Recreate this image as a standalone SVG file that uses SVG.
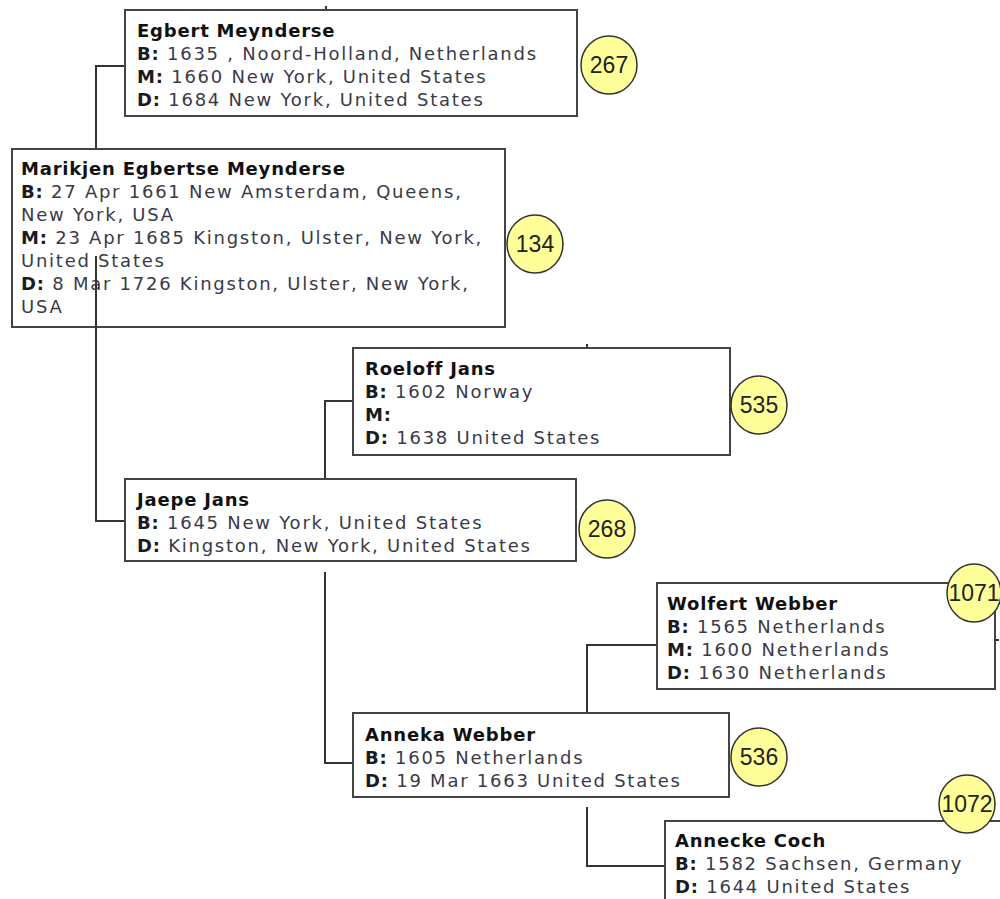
<svg xmlns="http://www.w3.org/2000/svg" width="1000" height="899" viewBox="0 0 1000 899">
<style>
.box{fill:#fff;stroke:#444;stroke-width:2}
.con{fill:none;stroke:#333;stroke-width:2}
.badge{fill:#ffff99;stroke:#333;stroke-width:1.5}
.num{font-family:"Liberation Sans",Arial,sans-serif;font-size:23px;fill:#222;text-anchor:middle}
.t{font-family:"DejaVu Sans",Verdana,sans-serif;font-size:18px;letter-spacing:1.75px;fill:#3a3a48}
.n{font-weight:bold;fill:#111;letter-spacing:0.8px}
.l{font-weight:bold;fill:#1a1a22;letter-spacing:0.8px}
</style>
<rect width="1000" height="899" fill="#fff"/>
<g id="connectors">
<path class="con" d="M125,66 H96 V149"/>
<path class="con" d="M96,256 V521 H125"/>
<path class="con" d="M353,401 H325 V479"/>
<path class="con" d="M325,572 V763 H353"/>
<path class="con" d="M657,645 H587 V713"/>
<path class="con" d="M587,807 V866 H665"/>
<path class="con" d="M326,6 V10"/>
<path class="con" d="M587,344 V348"/>
<path class="con" d="M995,640 H999"/>
</g>
<g id="node-267">
<rect class="box" x="125" y="10" width="452" height="106"/>
<text class="t" x="137" y="37"><tspan class="n">Egbert Meynderse</tspan></text>
<text class="t" x="137" y="60"><tspan class="l">B:</tspan> 1635 , Noord-Holland, Netherlands</text>
<text class="t" x="137" y="83"><tspan class="l">M:</tspan> 1660 New York, United States</text>
<text class="t" x="137" y="106"><tspan class="l">D:</tspan> 1684 New York, United States</text>
<ellipse class="badge" cx="609" cy="65" rx="28" ry="29"/>
<text class="num" x="609" y="73">267</text>
</g>
<g id="node-134">
<rect class="box" x="12" y="149" width="493" height="178"/>
<text class="t" x="21" y="175"><tspan class="n">Marikjen Egbertse Meynderse</tspan></text>
<text class="t" x="21" y="198"><tspan class="l">B:</tspan> 27 Apr 1661 New Amsterdam, Queens,</text>
<text class="t" x="21" y="221">New York, USA</text>
<text class="t" x="21" y="244"><tspan class="l">M:</tspan> 23 Apr 1685 Kingston, Ulster, New York,</text>
<text class="t" x="21" y="267">United States</text>
<text class="t" x="21" y="290"><tspan class="l">D:</tspan> 8 Mar 1726 Kingston, Ulster, New York,</text>
<text class="t" x="21" y="313">USA</text>
<ellipse class="badge" cx="535" cy="244" rx="28" ry="29"/>
<text class="num" x="535" y="252">134</text>
</g>
<path class="con" d="M96,256 V327"/>
<g id="node-535">
<rect class="box" x="353" y="348" width="377" height="107"/>
<text class="t" x="365" y="375"><tspan class="n">Roeloff Jans</tspan></text>
<text class="t" x="365" y="398"><tspan class="l">B:</tspan> 1602 Norway</text>
<text class="t" x="365" y="421"><tspan class="l">M:</tspan></text>
<text class="t" x="365" y="444"><tspan class="l">D:</tspan> 1638 United States</text>
<ellipse class="badge" cx="759" cy="405" rx="28" ry="29"/>
<text class="num" x="759" y="413">535</text>
</g>
<g id="node-268">
<rect class="box" x="125" y="479" width="451" height="82"/>
<text class="t" x="137" y="506"><tspan class="n">Jaepe Jans</tspan></text>
<text class="t" x="137" y="529"><tspan class="l">B:</tspan> 1645 New York, United States</text>
<text class="t" x="137" y="552"><tspan class="l">D:</tspan> Kingston, New York, United States</text>
<ellipse class="badge" cx="607" cy="529" rx="28" ry="29"/>
<text class="num" x="607" y="537">268</text>
</g>
<g id="node-1071">
<rect class="box" x="657" y="583" width="338" height="106"/>
<text class="t" x="667" y="610"><tspan class="n">Wolfert Webber</tspan></text>
<text class="t" x="667" y="633"><tspan class="l">B:</tspan> 1565 Netherlands</text>
<text class="t" x="667" y="656"><tspan class="l">M:</tspan> 1600 Netherlands</text>
<text class="t" x="667" y="679"><tspan class="l">D:</tspan> 1630 Netherlands</text>
<ellipse class="badge" cx="974" cy="593" rx="27" ry="29"/>
<text class="num" x="974" y="601">1071</text>
</g>
<g id="node-536">
<rect class="box" x="353" y="713" width="376" height="84"/>
<text class="t" x="365" y="741"><tspan class="n">Anneka Webber</tspan></text>
<text class="t" x="365" y="764"><tspan class="l">B:</tspan> 1605 Netherlands</text>
<text class="t" x="365" y="787"><tspan class="l">D:</tspan> 19 Mar 1663 United States</text>
<ellipse class="badge" cx="759" cy="757" rx="28" ry="29"/>
<text class="num" x="759" y="765">536</text>
</g>
<g id="node-1072">
<rect class="box" x="665" y="821" width="345" height="90"/>
<text class="t" x="675" y="847"><tspan class="n">Annecke Coch</tspan></text>
<text class="t" x="675" y="870"><tspan class="l">B:</tspan> 1582 Sachsen, Germany</text>
<text class="t" x="675" y="893"><tspan class="l">D:</tspan> 1644 United States</text>
<ellipse class="badge" cx="967" cy="804" rx="28" ry="29"/>
<text class="num" x="967" y="812">1072</text>
</g>
</svg>
